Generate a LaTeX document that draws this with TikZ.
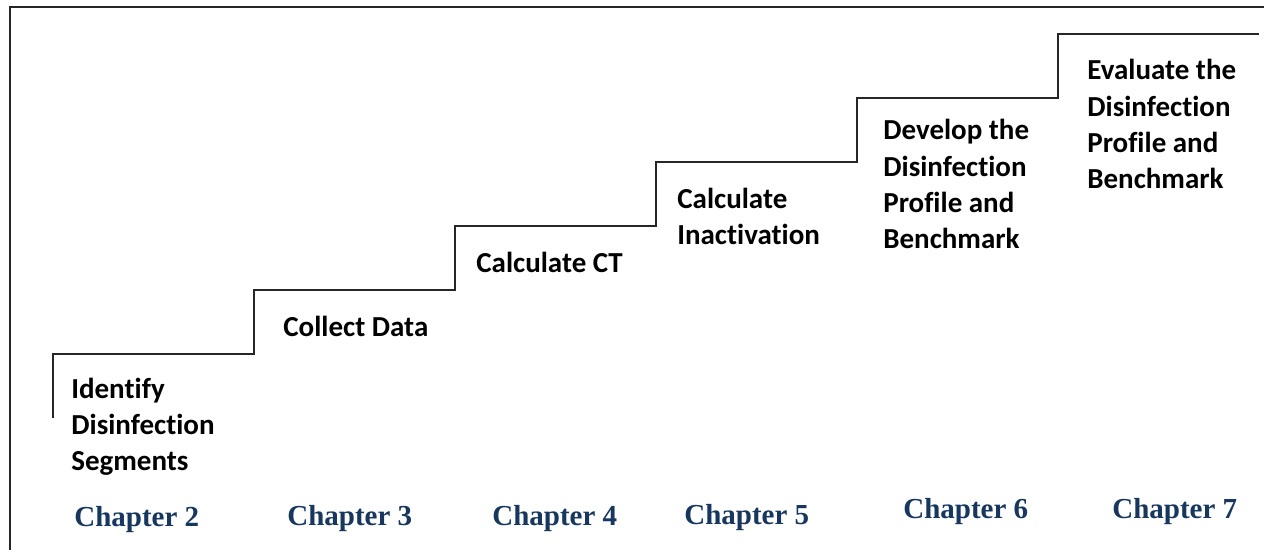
\documentclass[tikz,border=0pt]{standalone}
\usepackage{fontspec}
\setmainfont{Liberation Serif}
\newfontfamily\stepfont[Ligatures=NoCommon]{Carlito}
\usepackage{tikz}
\usetikzlibrary{positioning}

\definecolor{chapblue}{RGB}{23,55,94}

\begin{document}
\begin{tikzpicture}[
    frame/.style={line width=1.1pt, draw=black!85},
    stair/.style={line width=0.9pt, draw=black!85},
    task/.style={anchor=base west, inner sep=0pt, align=left,
                 font=\stepfont\bfseries\fontsize{16.5}{20.7}\selectfont},
    chap/.style={anchor=base west, inner sep=0pt, text=chapblue,
                 font=\bfseries\fontsize{16.5}{19}\selectfont}
]

    % Page
    \clip (0, 0) rectangle (25.28, 11);
    \draw[frame] (0.2, -1) -- (0.2, 10.86) -- (26, 10.86);

    % Staircase
    \coordinate (s0) at (1.06, 2.64);
    \draw[stair] (s0)
        \foreach \i in {0,...,5} {
            -- ++(0, 1.28) -- ++(4.02, 0)
        } coordinate (s6);

    % Steps (base = last line)
    \node[task] (identify) at (1.42, 1.58) {Identify\\Disinfection\\Segments};
    \node[task] (collect) at (5.66, 4.26) {Collect Data};
    \node[task] (calcct) at (9.52, 5.54) {Calculate CT};
    \node[task] (inact) at (13.54, 6.10) {Calculate\\Inactivation};
    \node[task] (develop) at (17.66, 6.02) {Develop the\\Disinfection\\Profile and\\Benchmark};
    \node[task] (evaluate) at (21.74, 7.22) {Evaluate the\\Disinfection\\Profile and\\Benchmark};

    % Chapters
    \node[chap] (ch2) at (1.48, 0.46) {Chapter 2};
    \node[chap] (ch3) at (5.74, 0.48) {Chapter 3};
    \node[chap] (ch4) at (9.84, 0.48) {Chapter 4};
    \node[chap] (ch5) at (13.68, 0.50) {Chapter 5};
    \node[chap] (ch6) at (18.06, 0.62) {Chapter 6};
    \node[chap] (ch7) at (22.24, 0.62) {Chapter 7};

\end{tikzpicture}
\end{document}
